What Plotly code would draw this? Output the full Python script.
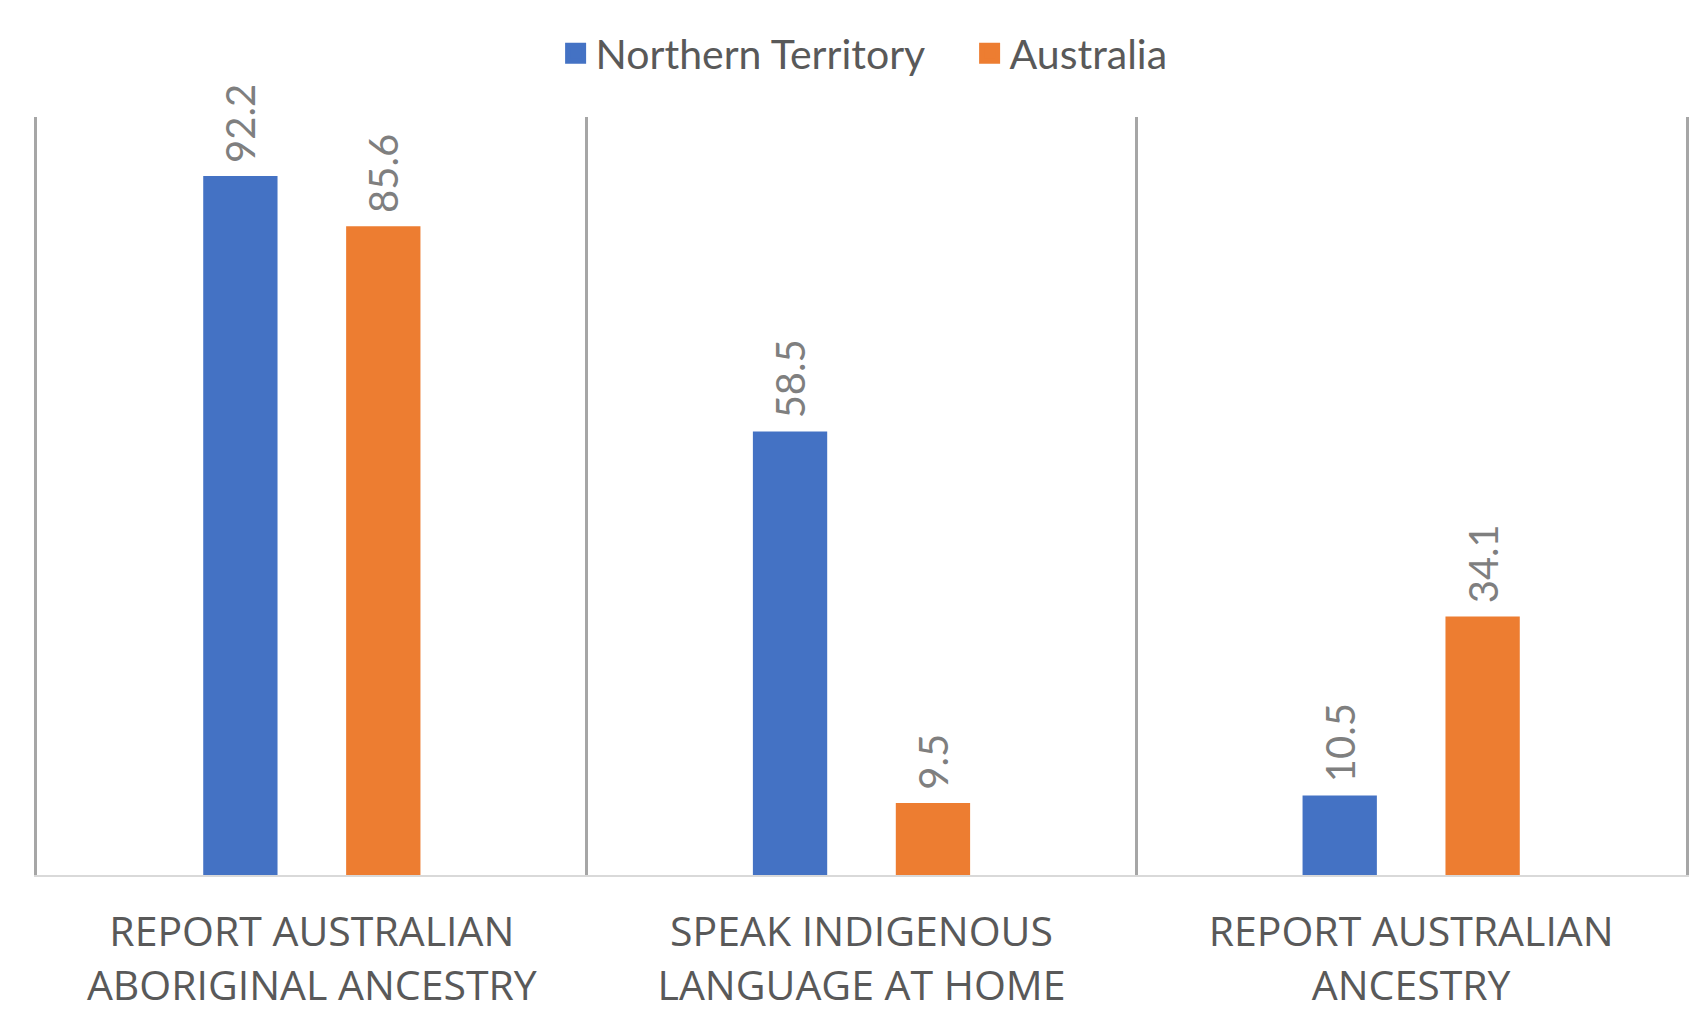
import plotly.graph_objects as go

categories = ["REPORT AUSTRALIAN<br>ABORIGINAL ANCESTRY",
              "SPEAK INDIGENOUS<br>LANGUAGE AT HOME",
              "REPORT AUSTRALIAN<br>ANCESTRY"]
series_names = ["Northern Territory", "Australia"]
nt_values = [92.2, 58.5, 10.5]
au_values = [85.6, 9.5, 34.1]
colors = ["#4472C4", "#ED7D31"]

fig = go.Figure()
for name, vals, col in zip(series_names, [nt_values, au_values], colors):
    fig.add_trace(go.Bar(
        x=categories, y=vals, name=name, marker=dict(color=col, line=dict(width=0)),
        text=[f"\u00a0{v:.1f}" for v in vals], textposition="outside", textangle=-90,
        constraintext="none", cliponaxis=False,
        textfont=dict(family="Lato", size=40, color="#7F7F7F"),
        showlegend=False,
    ))
# legend entries (larger square swatches)
for name, col in zip(series_names, colors):
    fig.add_trace(go.Scatter(
        x=[None], y=[None], mode="markers", name=name,
        marker=dict(symbol="square", size=16, color=col, line=dict(color=col, width=5)),
        showlegend=True,
    ))

fig.update_layout(
    width=1695, height=1016,
    paper_bgcolor="white", plot_bgcolor="white",
    margin=dict(l=29, r=17, t=109, b=139),
    barmode="group", bargap=0.48, bargroupgap=0.48,
    font=dict(family="Lato", color="#595959"),
    legend=dict(orientation="h", x=0.3145, xanchor="left", yref="container",
                y=0.955, yanchor="middle",
                font=dict(family="Lato", size=41, color="#595959"),
                itemwidth=30, traceorder="normal",
                entrywidth=369, entrywidthmode="pixels"),
    xaxis=dict(
        type="category", showgrid=True, tickson="boundaries",
        gridcolor="#A6A6A6", gridwidth=3,
        showline=True, linecolor="#D9D9D9", linewidth=2,
        ticks="", ticklabelstandoff=20,
        tickfont=dict(family="Open Sans", size=41, color="#595959"),
        range=[-0.5, 2.5], fixedrange=True,
    ),
    yaxis=dict(
        range=[0, 100], showgrid=False, zeroline=False, showticklabels=False,
        ticks="", showline=True, mirror=True, linecolor="#A6A6A6", linewidth=3,
        fixedrange=True,
    ),
)

fig.write_html("out.html")
